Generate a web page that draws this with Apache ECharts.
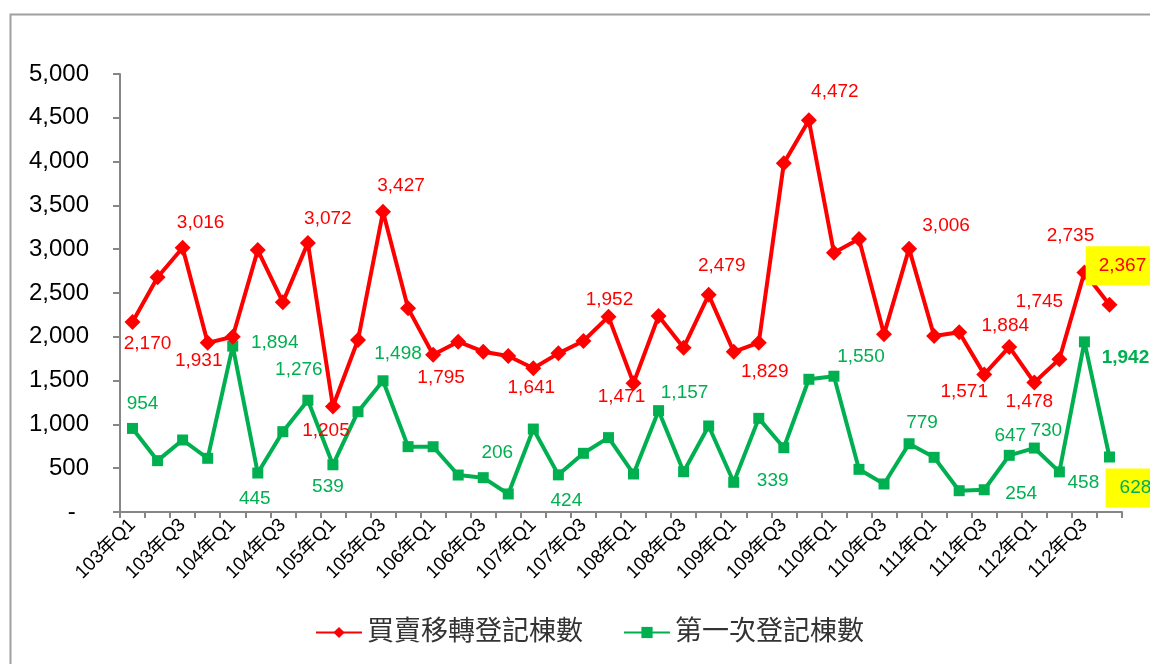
<!DOCTYPE html>
<html>
<head>
<meta charset="utf-8">
<script src="https://cdn.jsdelivr.net/npm/echarts@6/dist/echarts.min.js"></script>
<style>
  html, body { margin: 0; padding: 0; background: #fff; }
  #chart { width: 1150px; height: 664px; }
</style>
</head>
<body>
<div id="chart"></div>
<script>
var chart = echarts.init(document.getElementById('chart'));

// 資料
const quarters = [
  '103年Q1', '103年Q2', '103年Q3', '103年Q4', '104年Q1', '104年Q2', '104年Q3', '104年Q4',
  '105年Q1', '105年Q2', '105年Q3', '105年Q4', '106年Q1', '106年Q2', '106年Q3', '106年Q4',
  '107年Q1', '107年Q2', '107年Q3', '107年Q4', '108年Q1', '108年Q2', '108年Q3', '108年Q4',
  '109年Q1', '109年Q2', '109年Q3', '109年Q4', '110年Q1', '110年Q2', '110年Q3', '110年Q4',
  '111年Q1', '111年Q2', '111年Q3', '111年Q4', '112年Q1', '112年Q2', '112年Q3', '112年Q4'
];
const seriesNames = ['買賣移轉登記棟數', '第一次登記棟數'];
const transferCounts = [
  2170, 2680, 3016, 1931, 2000, 2990, 2395, 3072, 1205, 1963,
  3427, 2325, 1795, 1944, 1830, 1781, 1641, 1811, 1952, 2230,
  1471, 2237, 1876, 2479, 1829, 1933, 3980, 4472, 2960, 3116,
  2028, 3006, 2009, 2051, 1571, 1884, 1478, 1745, 2735, 2367
];
const firstRegCounts = [
  954, 586, 822, 613, 1894, 445, 917, 1276, 539, 1145,
  1498, 746, 745, 422, 392, 206, 947, 424, 670, 849,
  434, 1157, 460, 982, 339, 1069, 734, 1515, 1550, 487,
  320, 779, 624, 243, 254, 647, 730, 458, 1942, 628
];
const yTicks = { min: 0, max: 5000, step: 500 };

// 標籤位置 [索引, dx, dy]
const redLabelAt = [[0,15,22],[2,18,-25],[3,-9,18],[7,20,-24],[8,-7,24],[10,18,-26],[12,8,23],
  [16,-2,20],[18,26,-41],[20,-12,14],[23,13,-29],[24,31,20],[27,26,-28],[31,37,-23],
  [34,-20,17],[35,-4,-21],[36,-5,19],[37,-20,-57],[38,-14,-37],[39,13,-39]];
const greenLabelAt = [[0,10,-25],[4,42,-3],[5,-3,26],[7,-9,-30],[8,-5,22],[10,15,-27],[15,-11,-41],
  [17,8,26],[21,26,-18],[24,39,-2],[28,27,-19],[31,13,-21],[34,37,4],[35,1,-20],
  [36,12,-17],[37,24,11],[38,41,16],[39,26,31]];

const FONT = "'Liberation Sans', 'Noto Sans CJK TC', sans-serif";
const RED = '#FF0000';
const GREEN = '#00B050';

function fmt(v) {
  return Number(v).toLocaleString('en-US');
}

function buildData(values, labelAt, color, extra) {
  var map = {};
  labelAt.forEach(function (a) { map[a[0]] = a; });
  return values.map(function (v, i) {
    var a = map[i];
    if (!a) return { value: v };
    var lab = {
      show: true,
      position: 'inside',
      offset: [a[1], a[2]],
      align: 'center',
      verticalAlign: 'middle',
      color: color,
      fontSize: 19,
      fontFamily: FONT,
      formatter: function (p) { return fmt(p.value); }
    };
    if (extra[i]) Object.assign(lab, extra[i]);
    return { value: v, label: lab };
  });
}

var options = {
  animation: false,
  backgroundColor: '#fff',
  grid: { left: 120, right: 28, top: 74, bottom: 152, containLabel: false, outerBoundsMode: 'none' },
  graphic: [{
    type: 'rect',
    left: 8, top: 12,
    shape: { width: 1200, height: 700 },
    style: { fill: 'none', stroke: '#A0A0A0', lineWidth: 2 },
    silent: true
  }],
  legend: {
    left: 310,
    top: 614,
    itemWidth: 46,
    itemHeight: 14,
    itemGap: 40,
    textStyle: { fontSize: 27, color: '#333', fontFamily: FONT },
    data: seriesNames
  },
  xAxis: {
    type: 'category',
    data: quarters,
    boundaryGap: true,
    axisLine: { lineStyle: { color: '#868686', width: 2 } },
    axisTick: { show: true, interval: 0, length: 6, lineStyle: { color: '#868686', width: 2 } },
    axisLabel: { interval: 1, rotate: 45, margin: 10, fontSize: 19, color: '#000', fontFamily: FONT }
  },
  yAxis: {
    type: 'value',
    min: yTicks.min,
    max: yTicks.max,
    interval: yTicks.step,
    splitLine: { show: false },
    axisLine: { show: true, lineStyle: { color: '#868686', width: 2 } },
    axisTick: { show: true, length: 7, lineStyle: { color: '#868686', width: 2 } },
    axisLabel: {
      margin: 31, fontSize: 24, color: '#000', fontFamily: FONT,
      formatter: function (v) { return v === 0 ? '-  ' : fmt(v); }
    }
  },
  series: [{
    name: seriesNames[0],
    type: 'line',
    symbol: 'diamond',
    symbolSize: 16,
    itemStyle: { color: RED },
    lineStyle: { color: RED, width: 4 },
    data: buildData(transferCounts, redLabelAt, RED, {
      39: { backgroundColor: '#FFFF00', padding: [10, 13] }
    }),
    z: 3
  }, {
    name: seriesNames[1],
    type: 'line',
    symbol: 'rect',
    symbolSize: 11,
    itemStyle: { color: GREEN },
    lineStyle: { color: GREEN, width: 4 },
    data: buildData(firstRegCounts, greenLabelAt, GREEN, {
      38: { fontWeight: 'bold' },
      39: { backgroundColor: '#FFFF00', padding: [10, 14] }
    }),
    z: 2
  }]
};
chart.setOption(options);
</script>
</body>
</html>
